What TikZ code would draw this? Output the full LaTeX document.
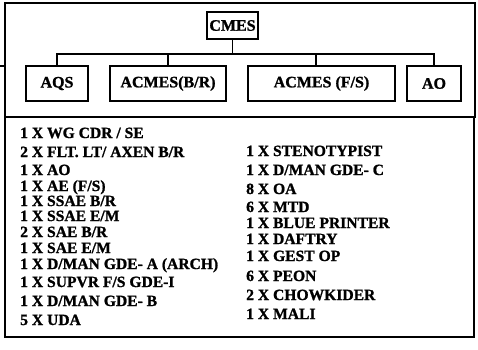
\documentclass[tikz,border=0pt]{standalone}
\usepackage{fontspec}
\setmainfont{Liberation Serif}[BoldFeatures={FakeBold=1.2}]
\begin{document}
\begin{tikzpicture}[x=1pt,y=-1pt,
  orgbox/.style={draw, line width=1.1pt, minimum height=35pt, inner sep=0pt, font=\fontsize{16}{16}\selectfont\bfseries},
  item/.style={anchor=base west, inner sep=0pt, font=\fontsize{15.6}{16}\selectfont\bfseries},
  frame/.style={line width=1.5pt},
  link/.style={line width=1.1pt}]
\useasboundingbox (0,0) rectangle (478,349);
% frames
\draw[frame] (5,3) rectangle (475,117);
\draw[frame] (5,117) rectangle (474,337);
\coordinate (stubL) at (0,66);
\coordinate (stubR) at (5,66);
\draw[frame] (stubL) -- (stubR);
% tree
\node[orgbox, minimum width=51pt, minimum height=27pt] (cmes) at (232.5,25.5) {CMES};
\node[orgbox, minimum width=62pt] (aqs) at (57,83.5) {AQS};
\node[orgbox, minimum width=116pt] (acbr) at (168,83.5) {ACMES(B/R)};
\node[orgbox, minimum width=147pt] (acfs) at (321.5,83.5) {ACMES (F/S)};
\node[orgbox, minimum width=54pt] (ao) at (434,83.5) {AO};
\coordinate (bus) at (232.5,54);
\draw[link] (cmes.south) -- (bus);
\draw[link] (aqs.north) |- (bus);
\draw[link] (ao.north) |- (bus);
\draw[link] (acbr.north) |- (bus);
\draw[link] ([xshift=-5.5pt]acfs.north) |- (bus);
% left column
\node[item] (l1) at (20,138) {1 X WG CDR / SE};
\node[item] (l2) at (20,157) {2 X FLT. LT/ AXEN B/R};
\node[item] (l3) at (20,175) {1 X AO};
\node[item] (l4) at (20,191) {1 X AE (F/S)};
\node[item] (l5) at (20,206) {1 X SSAE B/R};
\node[item] (l6) at (20,221) {1 X SSAE E/M};
\node[item] (l7) at (20,237) {2 X SAE B/R};
\node[item] (l8) at (20,253) {1 X SAE E/M};
\node[item] (l9) at (20,269) {1 X D/MAN GDE- A (ARCH)};
\node[item] (l10) at (20,287) {1 X SUPVR F/S GDE-I};
\node[item] (l11) at (20,306) {1 X D/MAN GDE- B};
\node[item] (l12) at (20,325) {5 X UDA};
% right column
\node[item] (r1) at (246,156) {1 X STENOTYPIST};
\node[item] (r2) at (246,175) {1 X D/MAN GDE- C};
\node[item] (r3) at (246,194) {8 X OA};
\node[item] (r4) at (246,212) {6 X MTD};
\node[item] (r5) at (246,228) {1 X BLUE PRINTER};
\node[item] (r6) at (246,244) {1 X DAFTRY};
\node[item] (r7) at (246,261) {1 X GEST OP};
\node[item] (r8) at (246,281) {6 X PEON};
\node[item] (r9) at (246,300) {2 X CHOWKIDER};
\node[item] (r10) at (246,319) {1 X MALI};
\end{tikzpicture}
\end{document}
